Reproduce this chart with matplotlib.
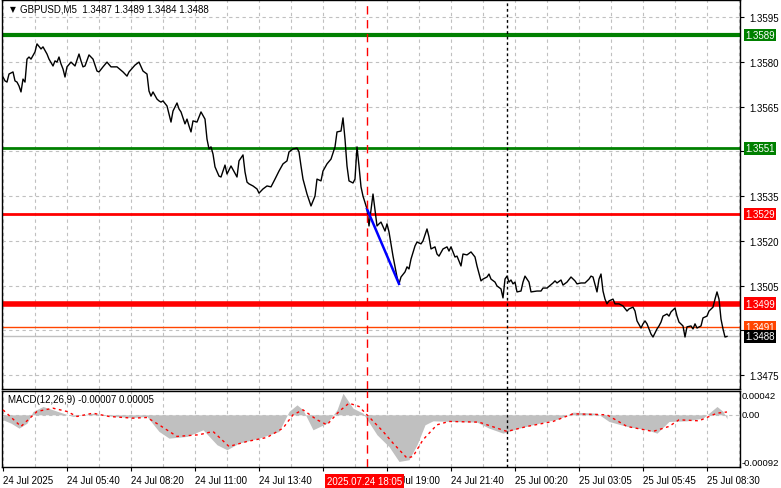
import matplotlib
matplotlib.use("Agg")
import matplotlib.pyplot as plt
import matplotlib.transforms as mtransforms

# ---------------- data ----------------
price_points = [
    (0, 1.35749), (1, 1.35736), (2, 1.35732), (3, 1.35759), (5, 1.35766), (6, 1.35736), (7, 1.35732),
    (8, 1.35719), (9, 1.35699), (10, 1.35742), (11, 1.35732), (12, 1.35809), (13, 1.35816), (14, 1.35809),
    (16, 1.35833), (17, 1.35860), (19, 1.35843), (20, 1.35850), (22, 1.35826), (23, 1.35809), (25, 1.35786),
    (26, 1.35803), (27, 1.35799), (28, 1.35816), (29, 1.35793), (30, 1.35776), (31, 1.35749), (32, 1.35783),
    (34, 1.35799), (36, 1.35786), (38, 1.35826), (39, 1.35803), (40, 1.35783), (41, 1.35786), (43, 1.35823),
    (45, 1.35809), (47, 1.35769), (48, 1.35766), (50, 1.35783), (52, 1.35799), (54, 1.35783), (56, 1.35783),
    (57, 1.35783), (60, 1.35766), (62, 1.35752), (63, 1.35766), (66, 1.35789), (68, 1.35799), (70, 1.35769),
    (72, 1.35759), (73, 1.35702), (74, 1.35685), (75, 1.35699), (77, 1.35675), (78, 1.35669), (79, 1.35665),
    (80, 1.35669), (82, 1.35652), (83, 1.35625), (84, 1.35598), (85, 1.35635), (87, 1.35662), (88, 1.35642),
    (89, 1.35632), (91, 1.35592), (92, 1.35608), (93, 1.35585), (94, 1.35565), (95, 1.35602), (97, 1.35598),
    (98, 1.35615), (99, 1.35632), (101, 1.35608), (102, 1.35541), (103, 1.35508), (104, 1.35515), (105, 1.35491),
    (106, 1.35448), (108, 1.35417), (109, 1.35414), (111, 1.35454), (112, 1.35424), (114, 1.35451), (117, 1.35414),
    (118, 1.35468), (120, 1.35488), (121, 1.35431), (122, 1.35397), (123, 1.35391), (125, 1.35384), (127, 1.35374),
    (128, 1.35360), (130, 1.35374), (132, 1.35384), (134, 1.35381), (136, 1.35407), (138, 1.35434), (140, 1.35458),
    (142, 1.35468), (143, 1.35498), (145, 1.35508), (147, 1.35511), (148, 1.35498), (149, 1.35451), (150, 1.35407),
    (152, 1.35357), (154, 1.35317), (156, 1.35350), (157, 1.35407), (159, 1.35401), (160, 1.35434), (162, 1.35458),
    (164, 1.35474), (166, 1.35515), (167, 1.35565), (169, 1.35568), (170, 1.35612), (171, 1.35541), (172, 1.35451),
    (173, 1.35401), (175, 1.35394), (176, 1.35407), (177, 1.35515), (178, 1.35451), (179, 1.35381), (180, 1.35350),
    (182, 1.35307), (183, 1.35250), (185, 1.35357), (187, 1.35250), (188, 1.35257), (189, 1.35263), (191, 1.35233),
    (192, 1.35257), (193, 1.35230), (195, 1.35149), (197, 1.35079), (198, 1.35056), (199, 1.35079), (201, 1.35096),
    (202, 1.35113), (203, 1.35106), (204, 1.35139), (206, 1.35183), (207, 1.35196), (209, 1.35190), (210, 1.35200),
    (212, 1.35240), (213, 1.35213), (214, 1.35173), (216, 1.35180), (217, 1.35156), (218, 1.35149), (220, 1.35173),
    (222, 1.35180), (223, 1.35166), (224, 1.35180), (226, 1.35146), (227, 1.35149), (229, 1.35116), (230, 1.35156),
    (232, 1.35153), (234, 1.35163), (236, 1.35146), (237, 1.35116), (239, 1.35066), (240, 1.35072), (242, 1.35079),
    (243, 1.35089), (244, 1.35072), (246, 1.35062), (247, 1.35049), (249, 1.35039), (250, 1.35009), (251, 1.35072),
    (252, 1.35082), (253, 1.35062), (254, 1.35069), (255, 1.35056), (256, 1.35062), (257, 1.35029), (259, 1.35032),
    (260, 1.35062), (261, 1.35082), (263, 1.35062), (264, 1.35029), (267, 1.35032), (269, 1.35032), (270, 1.35042),
    (272, 1.35042), (275, 1.35059), (276, 1.35066), (277, 1.35059), (279, 1.35069), (280, 1.35052), (282, 1.35062),
    (284, 1.35079), (286, 1.35066), (287, 1.35056), (289, 1.35059), (291, 1.35059), (293, 1.35072), (294, 1.35082),
    (295, 1.35079), (297, 1.35029), (298, 1.35072), (299, 1.35089), (300, 1.35032), (301, 1.35005), (302, 1.34989),
    (303, 1.34999), (305, 1.35005), (306, 1.34989), (308, 1.34989), (310, 1.34982), (312, 1.34965), (313, 1.34972),
    (315, 1.34978), (316, 1.34965), (317, 1.34932), (319, 1.34908), (320, 1.34922), (321, 1.34932), (322, 1.34922),
    (324, 1.34888), (325, 1.34878), (327, 1.34905), (328, 1.34915), (329, 1.34928), (330, 1.34948), (332, 1.34955),
    (333, 1.34948), (334, 1.34962), (336, 1.34975), (337, 1.34948), (338, 1.34928), (340, 1.34915), (341, 1.34878),
    (342, 1.34912), (344, 1.34915), (345, 1.34905), (346, 1.34922), (347, 1.34908), (349, 1.34915), (350, 1.34942),
    (352, 1.34948), (353, 1.34965), (355, 1.34978), (356, 1.35005), (357, 1.35029), (358, 1.35005), (359, 1.34938),
    (360, 1.34905), (361, 1.34878), (362, 1.34880),
]

macd_hist = [
    (0, -0.000088), (4, -0.000147), (8, -0.000235), (12, -0.000147), (15, 0.000059), (20, 0.000147),
    (25, 0.000088), (30, 0.000029), (35, -0.000029), (45, 0.000029), (55, -0.000029), (65, -0.000047),
    (72, -0.000029), (78, -0.000293), (83, -0.000411), (92, -0.000381), (100, -0.000264), (107, -0.000528),
    (112, -0.000616), (118, -0.000499), (128, -0.000411), (138, -0.000293), (143, 0.000059), (147, 0.000176),
    (150, 0.000088), (155, -0.000264), (162, -0.000147), (167, 0.000088), (170, 0.000381), (175, 0.000117),
    (180, 0.000029), (187, -0.000352), (193, -0.000560), (198, -0.000822), (203, -0.000792), (207, -0.000528),
    (211, -0.000176), (215, -0.000106), (225, -0.000117), (237, -0.000129), (243, -0.000235), (250, -0.000323),
    (258, -0.000235), (268, -0.000147), (278, -0.000070), (285, 0.000047), (297, 0.000029), (303, -0.000117),
    (312, -0.000205), (322, -0.000264), (327, -0.000323), (333, -0.000117), (342, -0.000106), (350, -0.000059),
    (355, 0.000088), (357, 0.000147), (360, 0.000060), (362, -0.000070),
]

macd_signal = [
    (0, 0.000088), (9, -0.000205), (17, 0.000059), (25, 0.000117), (32, 0.000059), (37, -0.000029),
    (45, 0.000029), (53, -0.000029), (65, -0.000059), (72, -0.000047), (78, -0.000176), (87, -0.000381),
    (98, -0.000352), (105, -0.000293), (113, -0.000558), (122, -0.000470), (132, -0.000399), (140, -0.000235),
    (145, 0.000000), (150, 0.000088), (157, -0.000088), (162, -0.000176), (168, 0.000059), (173, 0.000205),
    (178, 0.000147), (182, 0.000000), (190, -0.000293), (195, -0.000499), (202, -0.000763), (205, -0.000734),
    (210, -0.000440), (217, -0.000176), (223, -0.000117), (238, -0.000129), (252, -0.000293), (262, -0.000205),
    (275, -0.000117), (285, 0.000018), (302, 0.000000), (312, -0.000205), (325, -0.000293), (333, -0.000205),
    (338, -0.000088), (348, -0.000106), (357, 0.000029), (362, 0.000050),
]

price_ticks = [1.3595, 1.3580, 1.3565, 1.3550, 1.3535, 1.3520, 1.3505, 1.3490, 1.3475]
hidden_price_labels = [1.3550, 1.3490]   # covered by level boxes in the reference
level_lines = [
    (1.3589, "#008000", 3.0, "1.3589", "#008000"),
    (1.3551, "#008000", 2.0, "1.3551", "#008000"),
    (1.3529, "#FF0000", 2.0, "1.3529", "#FF0000"),
    (1.3499, "#FF0000", 4.0, "1.3499", "#FF0000"),
    (1.3491, "#FF4500", 1.0, "1.3491", "#FF4500"),
    (1.3488, "#C0C0C0", 1.0, "1.3488", "black"),
]

time_tick_bars = [0, 32, 64, 96, 128, 160, 192, 224, 256, 288, 320, 352]
time_tick_labels = ["24 Jul 2025", "24 Jul 05:40", "24 Jul 08:20", "24 Jul 11:00", "24 Jul 13:40",
                    "", "24 Jul 19:00", "24 Jul 21:40", "25 Jul 00:20", "25 Jul 03:05",
                    "25 Jul 05:45", "25 Jul 08:30"]   # 16:20 label is hidden under the cursor box
grid_bars = list(range(0, 369, 16))

cursor_bar = 182
cursor_label = "2025.07.24 18:05"
day_sep_bar = 252
blue_seg = [(182, 1.35307), (198, 1.35056)]

header = "GBPUSD,M5  1.3487 1.3489 1.3484 1.3488"
macd_title = "MACD(12,26,9) -0.00007 0.00005"
macd_ticks = [(0.00042, "0.00042"), (0.0, "0.00"), (-0.00092, "-0.00092")]

# ---------------- figure ----------------
W, H = 781, 489
plt.rcParams['font.family'] = ['Liberation Sans', 'DejaVu Sans']
FS = 7.0
fig = plt.figure(figsize=(W / 100, H / 100), dpi=100)
fig.patch.set_facecolor("white")

ax = fig.add_axes([2 / W, 1 - 390 / H, 738 / W, 389 / H])
axm = fig.add_axes([2 / W, 1 - 468 / H, 738 / W, 76 / H])

XL = (-0.5, 368.5)
GRID = dict(color="#C0C0C0", lw=0.8, ls=(0, (3, 3)), zorder=0)

# main panel
ax.set_xlim(*XL)
ax.set_ylim(1.347038, 1.36007)
for b in grid_bars:
    ax.axvline(b, **GRID)
for p in price_ticks:
    ax.axhline(p, **GRID)

for val, col, lw, txt, bg in level_lines:
    ax.axhline(val, color=col, lw=lw, zorder=2)

bx = [p[0] for p in price_points]
by = [p[1] for p in price_points]
ax.plot(bx, by, color="black", lw=1.0, zorder=3)
ax.plot([blue_seg[0][0], blue_seg[1][0]], [blue_seg[0][1], blue_seg[1][1]], color="#0000FF", lw=1.8, zorder=4)

for a in (ax, axm):
    a.axvline(cursor_bar, color="#FF0000", lw=1.0, ls=(0, (6, 4)), zorder=5)
    a.axvline(day_sep_bar, color="black", lw=1.0, ls=(0, (2, 2)), zorder=5)

ax.yaxis.tick_right()
ax.set_yticks(price_ticks)
ax.set_yticklabels(["" if p in hidden_price_labels else f"{p:.4f}" for p in price_ticks], fontsize=FS)
ax.tick_params(axis="y", length=3, width=0.8, pad=4, colors="black")
ax.set_xticks([])
for s in ax.spines.values():
    s.set_color("black")
    s.set_linewidth(1.0)

# level labels on the right
tr = mtransforms.blended_transform_factory(ax.transAxes, ax.transData)
for val, col, lw, txt, bg in level_lines:
    ax.text(1.0 + 5 / 738, val, txt, transform=tr, fontsize=FS, color="white", va="center", ha="left",
            clip_on=False, zorder=10,
            bbox=dict(boxstyle="square,pad=0.12", fc=bg, ec="none"))

ax.text(8 / 738, 1 - 9 / 389, "\u25BC", transform=ax.transAxes, fontsize=5.5, va="center", ha="left",
        family="DejaVu Sans")
ax.text(18 / 738, 1 - 9 / 389, header, transform=ax.transAxes, fontsize=FS, va="center", ha="left")

# MACD panel
axm.set_xlim(*XL)
axm.set_ylim(-0.00092, 0.00042)
for b in grid_bars:
    axm.axvline(b, **GRID)
axm.axhline(0, **GRID)
hx = [p[0] for p in macd_hist]
hy = [p[1] for p in macd_hist]
axm.fill_between(hx, 0, hy, color="#C0C0C0", lw=0, zorder=2)
sx = [p[0] for p in macd_signal]
sy = [p[1] for p in macd_signal]
axm.plot(sx, sy, color="#FF0000", lw=1.0, ls=(0, (2, 2.5)), zorder=3)

axm.set_yticks([])
for s in axm.spines.values():
    s.set_color("black")
    s.set_linewidth(1.0)
axm.text(6 / 738, 1 - 8 / 76, macd_title, transform=axm.transAxes, fontsize=FS, va="center", ha="left")

trm = mtransforms.blended_transform_factory(axm.transAxes, axm.transData)
for v, t in macd_ticks:
    va = "center"
    if v > 0:
        va = "top"
    elif v < 0:
        va = "bottom"
    axm.text(1.0 + 2 / 738, v, t, transform=trm, fontsize=6.8, va=va, ha="left", clip_on=False)

axm.set_xticks(time_tick_bars)
axm.set_xticklabels(time_tick_labels, fontsize=FS, ha="left")
axm.tick_params(axis="x", length=3, width=0.8, pad=3)

trx = mtransforms.blended_transform_factory(axm.transData, axm.transAxes)
axm.text(cursor_bar - 20.0, -9 / 76, cursor_label, transform=trx, fontsize=FS, color="white", va="top",
         ha="left", clip_on=False, zorder=10,
         bbox=dict(boxstyle="square,pad=0.2", fc="#FF0000", ec="none"))

fig.savefig("out.png", dpi=100, facecolor="white")
